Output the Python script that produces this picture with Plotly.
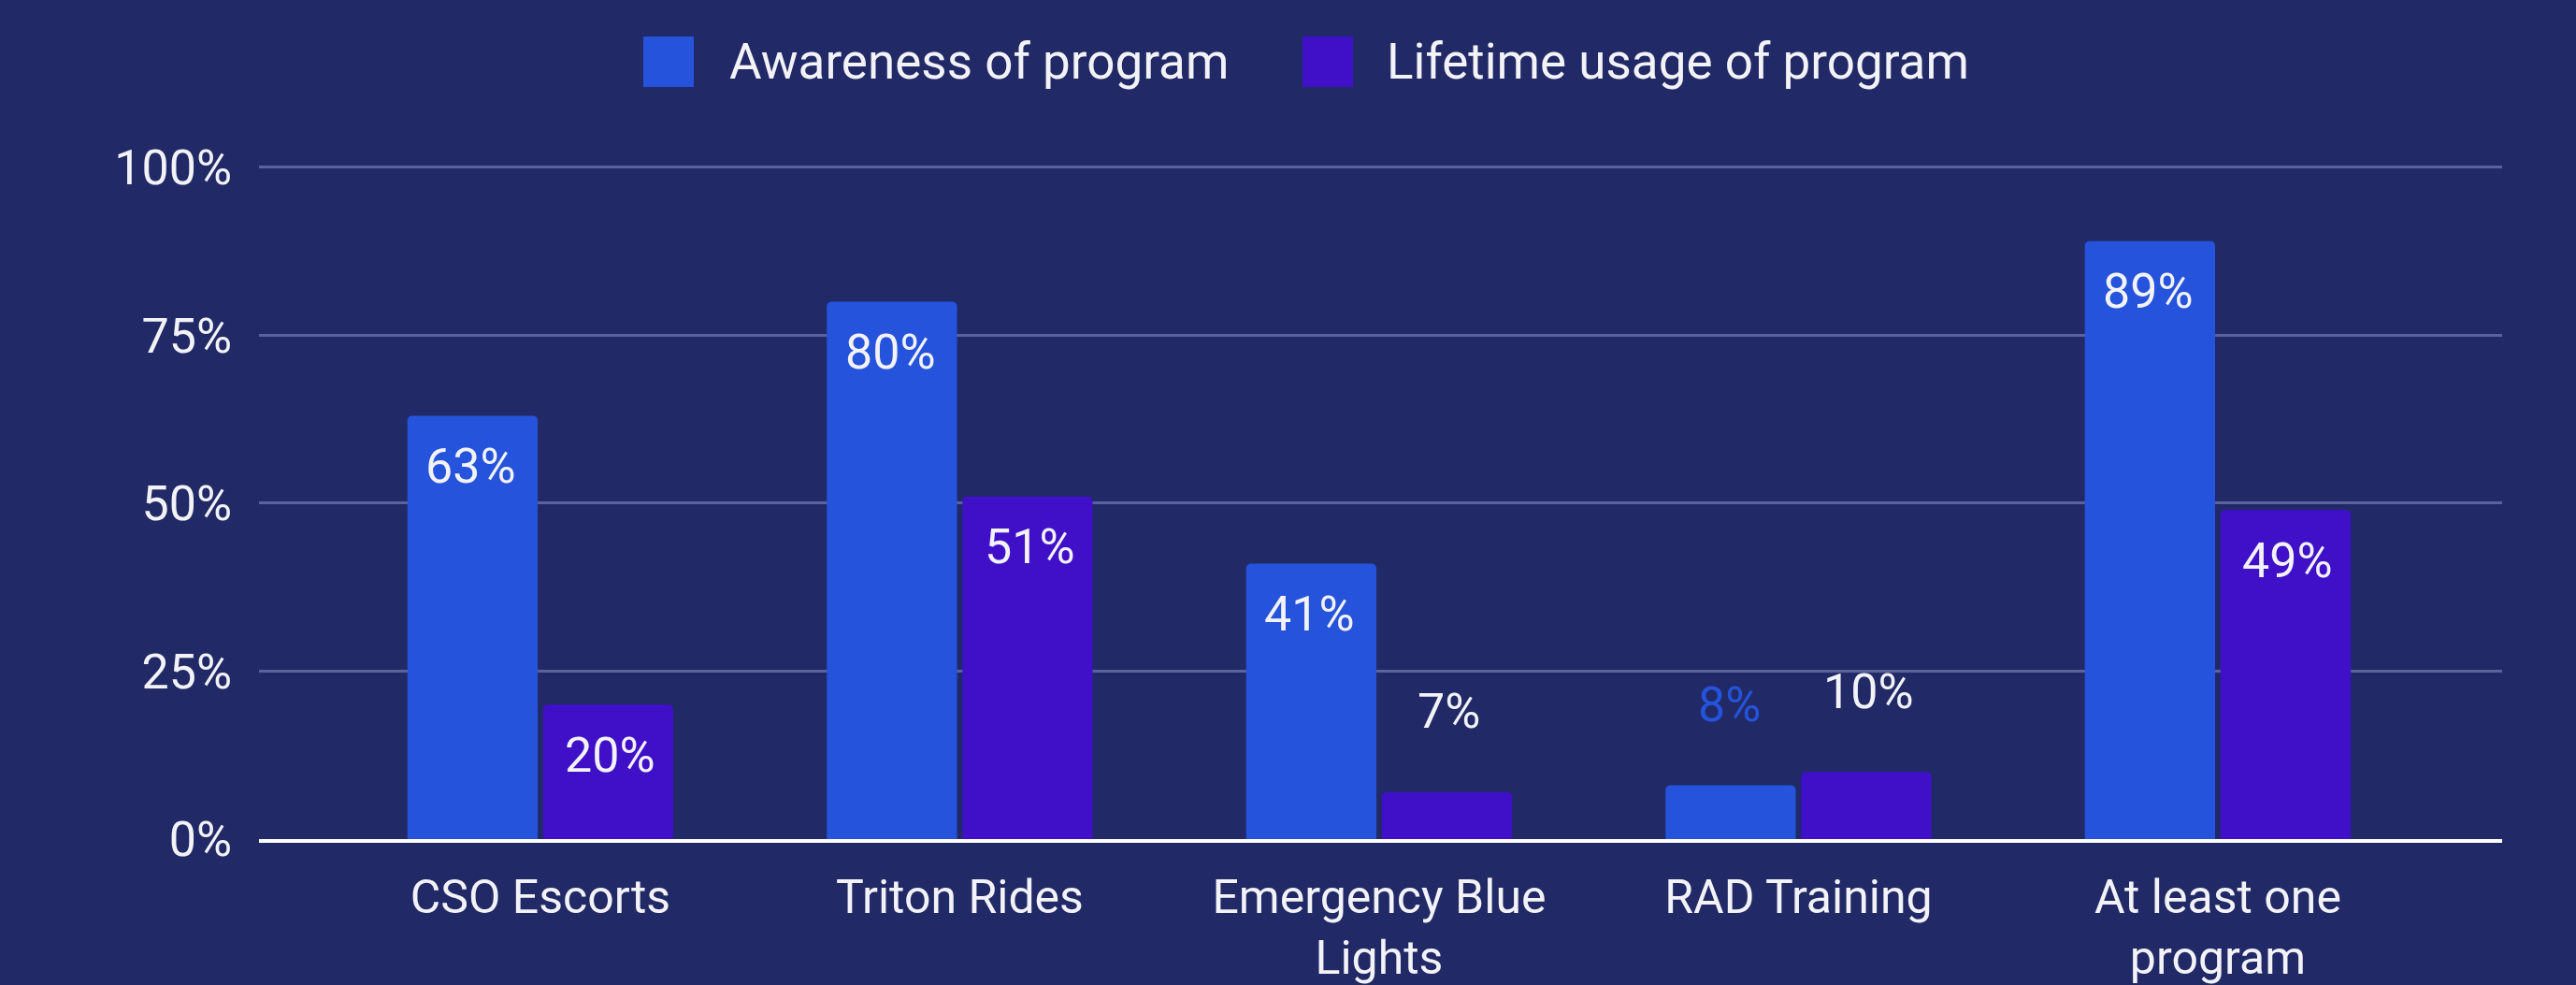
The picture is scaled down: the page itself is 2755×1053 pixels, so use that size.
import plotly.graph_objects as go

categories = ["CSO Escorts", "Triton Rides", "Emergency Blue<br>Lights", "RAD Training", "At least one<br>program"]
series_names = ["Awareness of program", "Lifetime usage of program"]
awareness = [0.63, 0.80, 0.41, 0.08, 0.89]
lifetime = [0.20, 0.51, 0.07, 0.10, 0.49]
y_ticks = [0, 0.25, 0.5, 0.75, 1.0]
y_tick_labels = ["0%", "25%", "50%", "75%", "100%"]

W, H = 2755, 1053
L, R, T, B = 277, 79, 176, 156
BG = "#212A66"
BLUE = "#2553DB"
PURPLE = "#4010C8"
GRID = "#5A639E"
TXT = "#F2F2F7"
FONT = "Roboto"
FS_VAL = 52
FS_Y = 52
FS_X = 50
FS_LEG = 53
YMAX = 1.004

fig = go.Figure()
for name, vals, col in [(series_names[0], awareness, BLUE), (series_names[1], lifetime, PURPLE)]:
    fig.add_trace(go.Bar(
        x=categories, y=vals, name=name,
        marker=dict(color=col, line=dict(width=0), cornerradius=5),
        showlegend=False, hoverinfo="skip",
    ))

# value labels
annotations = []
pw = W - L - R
ph = H - T - B
for si, (vals, col) in enumerate([(awareness, BLUE), (lifetime, PURPLE)]):
    shift = -74 if si == 0 else 75
    for c, v in zip(categories, vals):
        inside = v > 0.15
        if inside:
            color = TXT
        else:
            color = BLUE if si == 0 else TXT
        annotations.append(dict(
            x=c, y=v, xref="x", yref="y", text=f"{round(v*100)}%",
            showarrow=False, xshift=shift, yshift=(-54 if inside else 86),
            yanchor="middle", xanchor="center",
            font=dict(family=FONT, size=FS_VAL, color=color),
        ))

# manual legend
def px_x(p):
    return (p - L) / pw

def px_y(p):
    return (H - B - p) / ph

shapes = []
legend_items = [(series_names[0], BLUE, 688, 778), (series_names[1], PURPLE, 1393, 1481)]
for name, col, sx, tx in legend_items:
    shapes.append(dict(type="rect", xref="paper", yref="paper",
                       x0=px_x(sx), x1=px_x(sx + 54), y0=px_y(93), y1=px_y(39),
                       fillcolor=col, line=dict(width=0)))
    annotations.append(dict(x=px_x(tx), y=px_y(66), xref="paper", yref="paper",
                            text=name, showarrow=False, xanchor="left", yanchor="middle",
                            font=dict(family=FONT, size=FS_LEG, color=TXT)))

fig.update_layout(
    width=W, height=H,
    margin=dict(l=L, r=R, t=T, b=B, autoexpand=False),
    paper_bgcolor=BG, plot_bgcolor=BG,
    barmode="group", bargap=0.353, bargroupgap=0.04,
    font=dict(family=FONT, size=FS_Y, color=TXT),
    annotations=annotations, shapes=shapes,
    showlegend=False,
)
fig.update_xaxes(
    range=[-0.671, 4.678], showgrid=False, showline=True, linecolor="#FFFFFF", linewidth=4,
    ticks="", ticklabelstandoff=15, tickfont=dict(family=FONT, size=FS_X, color=TXT), fixedrange=True,
)
fig.update_yaxes(
    range=[0, YMAX], tickvals=y_ticks, ticktext=y_tick_labels,
    showgrid=True, gridcolor=GRID, gridwidth=3, zeroline=False, showline=False,
    ticks="", ticklabelstandoff=28, tickfont=dict(family=FONT, size=FS_Y, color=TXT), fixedrange=True,
)

fig.write_html(
    "out.html",
    config={"displayModeBar": False},
    post_script="document.body.style.margin='0';document.body.style.background='%s';document.body.style.overflow='hidden';" % BG,
)
